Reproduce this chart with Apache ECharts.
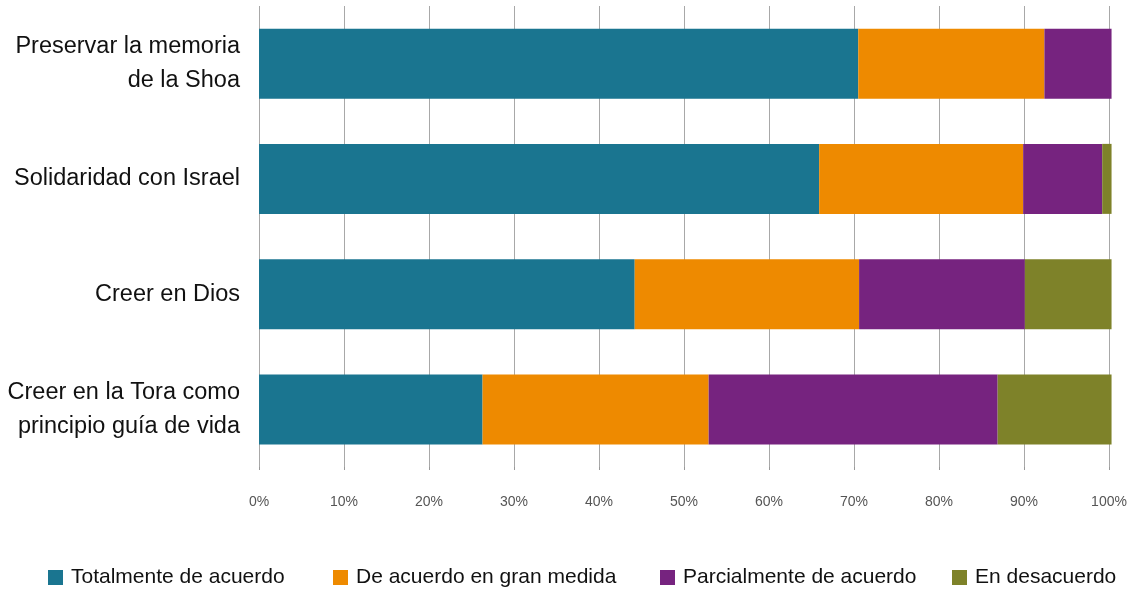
<!DOCTYPE html>
<html>
<head>
<meta charset="utf-8">
<script src="https://cdn.jsdelivr.net/npm/echarts@6/dist/echarts.min.js"></script>
<style>
html,body{margin:0;padding:0;background:#fff;}
#chart{width:1134px;height:590px;}
</style>
</head>
<body>
<div id="chart"></div>
<script>
// categorias (de arriba a abajo)
var categorias = ['Preservar la memoria\nde la Shoa', 'Solidaridad con Israel', 'Creer en Dios', 'Creer en la Tora como\nprincipio guía de vida'];
var nombres = ['Totalmente de acuerdo', 'De acuerdo en gran medida', 'Parcialmente de acuerdo', 'En desacuerdo'];
var totalmente = [70.5, 65.9, 44.2, 26.3];
var granMedida = [21.9, 24.0, 26.4, 26.6];
var parcial = [7.9, 9.3, 19.5, 34.0];
var desacuerdo = [0, 1.1, 10.2, 13.4];
var ticks = ['0%', '10%', '20%', '30%', '40%', '50%', '60%', '70%', '80%', '90%', '100%'];

var colores = ['#1A7590', '#EE8A00', '#76237F', '#7E8229'];
var fuente = "'Liberation Sans', sans-serif";
// posicion x de cada cuadrito de la leyenda
var leyendaX = [48, 333, 660, 952];

var chart = echarts.init(document.getElementById('chart'));
var datos = [totalmente, granMedida, parcial, desacuerdo];
var series = [];
var leyendas = [];
for (var i = 0; i < datos.length; i++) {
	series.push({
		name: nombres[i],
		type: 'bar',
		stack: 'total',
		barWidth: 70,
		clip: false,
		data: datos[i],
		itemStyle: {color: colores[i]}
	});
	leyendas.push({
		left: leyendaX[i],
		top: 567,
		padding: 0,
		itemWidth: 15,
		itemHeight: 15,
		itemGap: 0,
		icon: 'rect',
		textStyle: {fontFamily: fuente, fontSize: 21, color: '#111', padding: [0, 0, 0, 3]},
		data: [nombres[i]]
	});
}

var option = {
	animation: false,
	color: colores,
	grid: {left: 259, right: 25, top: 6, height: 461},
	legend: leyendas,
	xAxis: {
		type: 'value',
		min: 0,
		max: 100,
		interval: 10,
		axisLine: {show: false},
		axisTick: {show: true, length: 3, lineStyle: {color: '#999'}},
		splitLine: {show: true, lineStyle: {color: '#a8a8a8', width: 1}},
		axisLabel: {
			margin: 28,
			fontFamily: fuente,
			fontSize: 14,
			color: '#555',
			formatter: function (v) { return ticks[Math.round(v / 10)]; }
		}
	},
	yAxis: {
		type: 'category',
		inverse: true,
		data: categorias,
		axisLine: {show: false},
		axisTick: {show: false},
		axisLabel: {
			margin: 19,
			fontFamily: fuente,
			fontSize: 23.5,
			lineHeight: 34,
			color: '#111',
			align: 'right'
		}
	},
	series: series
};
chart.setOption(option);
</script>
</body>
</html>
